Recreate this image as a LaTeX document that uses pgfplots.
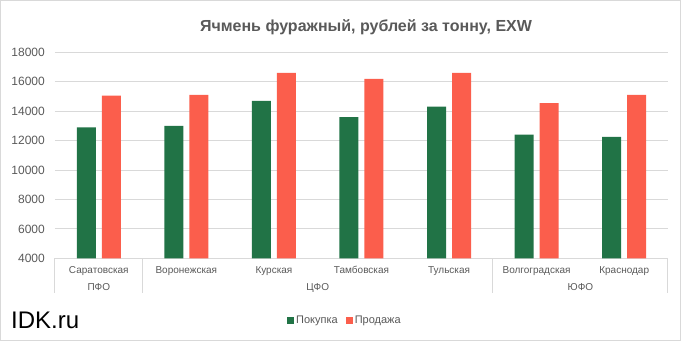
\documentclass[border=0pt]{standalone}
\usepackage{pgfplots}
\pgfplotsset{compat=1.18}
\usepackage{fontspec}
\setmainfont{Liberation Sans}
\definecolor{cgreen}{HTML}{217346}
\definecolor{cred}{HTML}{FB5E4C}
\definecolor{txtgray}{HTML}{595959}
\definecolor{gridgray}{HTML}{D9D9D9}
\begin{document}
\begin{tikzpicture}[x=1pt,y=1pt]
\path[use as bounding box] (0,0) rectangle (681,341);
\draw[gridgray, line width=1pt] (0.5,0.5) rectangle (680.5,340.5);
\node[text=txtgray, font=\fontsize{16}{18}\selectfont\bfseries] at (366,314) {Ячмень фуражный, рублей за тонну, EXW};
\node[anchor=west, font=\fontsize{24}{26}\selectfont, inner sep=0pt] at (11,21) {IDK.ru};
\begin{axis}[
  at={(55pt,82.7pt)}, anchor=south west,
  width=613pt, height=206pt, scale only axis,
  xmin=-0.5, xmax=6.5, ymin=4000, ymax=18000,
  ybar=6pt, bar width=19pt,
  clip=false,
  axis line style={draw=none},
  major tick length=0pt,
  xtick={0,1,2,3,4,5,6},
  xticklabels={Саратовская,Воронежская,Курская,Тамбовская,Тульская,Волгоградская,Краснодар},
  ytick={4000,6000,...,18000},
  scaled y ticks=false,
  ymajorgrids,
  grid style={gridgray, line width=1pt},
  tick label style={text=txtgray, inner sep=0pt},
  yticklabel style={font=\fontsize{12}{14}\selectfont, anchor=east, xshift=-10pt},
  xticklabel style={font=\fontsize{10}{12}\selectfont, anchor=base, yshift=-15.3pt},
  /pgf/number format/.cd, 1000 sep={}, assume math mode=true,
  /pgfplots/.cd,
  legend style={at={(0.473,-0.304)}, anchor=center, draw=none, legend columns=-1,
    font=\fontsize{11}{13}\selectfont, text=txtgray,
    /tikz/every even column/.append style={column sep=6pt}},
  legend image code/.code={\fill[#1] (0pt,-3.5pt) rectangle (7pt,3.5pt);},
]
\addplot[fill=cgreen, draw=none] coordinates {(0,12900) (1,13000) (2,14700) (3,13600) (4,14300) (5,12400) (6,12250)};
\addplot[fill=cred, draw=none] coordinates {(0,15050) (1,15100) (2,16600) (3,16200) (4,16600) (5,14550) (6,15100)};
\legend{Покупка,Продажа}
\draw[gridgray, line width=1pt] (axis cs:-0.5,4000) -- ([yshift=-35pt]axis cs:-0.5,4000);
\draw[gridgray, line width=1pt] (axis cs:0.5,4000) -- ([yshift=-35pt]axis cs:0.5,4000);
\draw[gridgray, line width=1pt] (axis cs:4.5,4000) -- ([yshift=-35pt]axis cs:4.5,4000);
\draw[gridgray, line width=1pt] (axis cs:6.5,4000) -- ([yshift=-35pt]axis cs:6.5,4000);
\node[text=txtgray, font=\fontsize{10}{12}\selectfont, anchor=base] at ([yshift=-32pt]axis cs:0,4000) {ПФО};
\node[text=txtgray, font=\fontsize{10}{12}\selectfont, anchor=base] at ([yshift=-32pt]axis cs:2.5,4000) {ЦФО};
\node[text=txtgray, font=\fontsize{10}{12}\selectfont, anchor=base] at ([yshift=-32pt]axis cs:5.5,4000) {ЮФО};
\end{axis}
\end{tikzpicture}
\end{document}
